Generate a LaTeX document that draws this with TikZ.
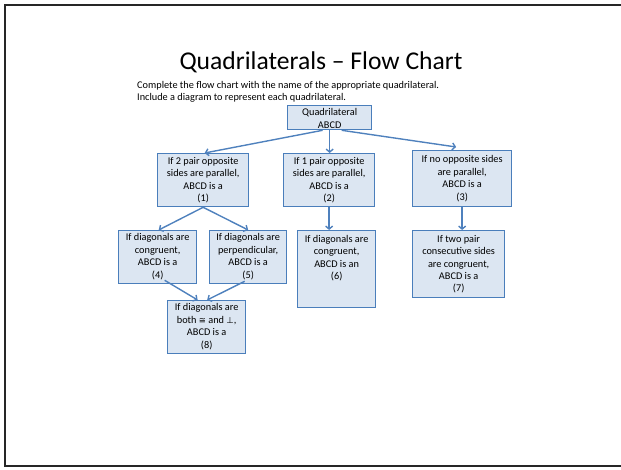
\documentclass[tikz,border=0pt]{standalone}
\usepackage{fontspec}
\setmainfont{Carlito}
\newfontfamily\symfont{DejaVu Sans}
\usetikzlibrary{arrows.meta,calc}
\definecolor{boxfill}{HTML}{DCE6F2}
\definecolor{boxline}{HTML}{4A7EBB}
\definecolor{arrowc}{HTML}{4F81BD}
\newcommand{\qbx}[4]{\parbox[c][#2][t]{#1}{\centering\vspace*{#3}#4\par}}
\newcommand{\smallsym}[1]{{\symfont\fontsize{8.5}{12.4}\selectfont #1}}
\begin{document}
\begin{tikzpicture}[x=1pt,y=-1pt,
  qbox/.style={draw=boxline, fill=boxfill, line width=1.3pt, inner sep=0pt,
    anchor=north west, font=\fontsize{10.3}{12.4}\selectfont},
  arr/.style={draw=arrowc, line width=1.4pt, -{Straight Barb[length=3pt,width=7pt]}},
  frame/.style={line width=2pt, draw=black!85}]
\useasboundingbox (0,0) rectangle (621,470);
\draw[frame] (621,5) -- (5,5) -- (5,466) -- (621,466);

\node[anchor=base, font=\fontsize{25.6}{30}\selectfont] (title) at (321,70) {Quadrilaterals – Flow Chart};
\node[anchor=base west, inner sep=0pt, font=\fontsize{10.3}{12}\selectfont] (s1) at (137,89) {Complete the flow chart with the name of the appropriate quadrilateral.};
\node[anchor=base west, inner sep=0pt, font=\fontsize{10.3}{12}\selectfont] (s2) at (137,101) {Include a diagram to represent each quadrilateral.};

\node[qbox] (q) at (287,105) {\qbx{84pt}{24pt}{3pt}{Quadrilateral\\ABCD}};
\node[qbox] (b1) at (157,153) {\qbx{91pt}{53pt}{3.5pt}{If 2 pair opposite\\sides are parallel,\\ABCD is a\\(1)}};
\node[qbox] (b2) at (283,153) {\qbx{91pt}{53pt}{3.5pt}{If 1 pair opposite\\sides are parallel,\\ABCD is a\\(2)}};
\node[qbox] (b3) at (412,150) {\qbx{99pt}{56pt}{5pt}{If no opposite sides\\are parallel,\\ABCD is a\\(3)}};
\node[qbox] (b4) at (118,230) {\qbx{78pt}{53pt}{3pt}{If diagonals are\\congruent,\\ABCD is a\\(4)}};
\node[qbox] (b5) at (209,230) {\qbx{77pt}{53pt}{3pt}{If diagonals are\\perpendicular,\\ABCD is a\\(5)}};
\node[qbox] (b6) at (297,230) {\qbx{78pt}{77pt}{4.5pt}{If diagonals are\\congruent,\\ABCD is an\\(6)}};
\node[qbox] (b7) at (412,230) {\qbx{92pt}{67pt}{4.5pt}{If two pair\\consecutive sides\\are congruent,\\ABCD is a\\(7)}};
\node[qbox] (b8) at (167,300) {\qbx{78pt}{53pt}{3pt}{If diagonals are\\both \smallsym{≅} and \smallsym{⊥},\\ABCD is a\\(8)}};

\draw[arr] ([xshift=-7pt]q.south) -- ([xshift=1.5pt]b1.north);
\draw[arr] (q.south) -- (q.south |- b2.north);
\draw[arr] ([xshift=12pt]q.south) -- ([xshift=-6pt,yshift=3pt]b3.north);
\draw[arr] (b1.south) -- ([xshift=1pt]b4.north);
\draw[arr] (b1.south) -- (b5.north);
\draw[arr] (b2.south) -- (b2.south |- b6.north);
\draw[arr] (b3.south) -- (b3.south |- b7.north);
\draw[arr] ([xshift=7pt,yshift=4pt]b4.south) -- ([xshift=-9pt]b8.north);
\draw[arr] ([xshift=-3.5pt,yshift=3pt]b5.south) -- ([xshift=0.5pt]b8.north);
\end{tikzpicture}
\end{document}
